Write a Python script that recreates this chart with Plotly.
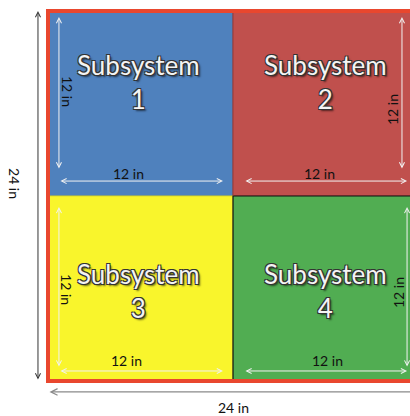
import plotly.graph_objects as go

# ---- data (inches) ----
total_size = 24
sub_size = 12
subsystem_ids = ["1", "2", "3", "4"]
sub_col = [0, 1, 0, 1]          # column index of each subsystem
sub_row = [1, 1, 0, 0]          # row index (0 = bottom)
dim_label_total = "24 in"
dim_label_sub = "12 in"

fills = ["#4F81BD", "#C0504D", "#F9F52C", "#51AD52"]
edges = ["#3D6AA0", "#9E3F3C", "#E0DC28", "#111111"]

# pixel scale: 370 px == 24 in, square origin at px (48, 381)
PX = 370 / total_size
W, H = 410, 416
x_rng = [-48 / PX, (W - 48) / PX]
y_rng = [-(H - 381) / PX, total_size + 11 / PX]

FONT = "Lato, 'Open Sans', sans-serif"

fig = go.Figure()
shapes = []
annotations = []

# quadrants
for i, sid in enumerate(subsystem_ids):
    qx = sub_col[i] * sub_size
    qy = sub_row[i] * sub_size
    shapes.append(dict(type="rect", xref="x", yref="y",
                       x0=qx, x1=qx + sub_size, y0=qy, y1=qy + sub_size,
                       fillcolor=fills[i], line=dict(color=edges[i], width=1.2),
                       layer="below"))

# outer border
shapes.append(dict(type="rect", xref="x", yref="y",
                   x0=0, x1=total_size, y0=0, y1=total_size,
                   fillcolor="rgba(0,0,0,0)", line=dict(color="#E9472E", width=4),
                   layer="above"))


def arrow(x0, y0, x1, y1, color, width=1):
    annotations.append(dict(x=x1, y=y1, ax=x0, ay=y0, xref="x", yref="y",
                            axref="x", ayref="y", text="", showarrow=True,
                            arrowside="end+start", arrowhead=5, startarrowhead=5,
                            arrowsize=1, startarrowsize=1, arrowwidth=width,
                            arrowcolor=color, standoff=0, startstandoff=0))


def label(x, y, text, angle=0, size=14, color="#111111"):
    annotations.append(dict(x=x, y=y, xref="x", yref="y", text=text,
                            showarrow=False, textangle=angle,
                            font=dict(family=FONT, size=size, color=color)))


# outer dimension arrows
arrow(-0.65, 0, -0.65, total_size, "#333333")
arrow(0, -0.71, total_size + 2, -0.71, "#8A8A8A", 1.3)
label(-2.14, 12.84, dim_label_total, 90)
label(12.0, -1.72, dim_label_total, 0)

# per-quadrant inner dimensions (offsets relative to quadrant lower-left)
inner_white = "#F2F2F2"
for i, sid in enumerate(subsystem_ids):
    qx = sub_col[i] * sub_size
    qy = sub_row[i] * sub_size
    right = sub_col[i] == 1
    top = sub_row[i] == 1
    vy0, vy1 = (1.69, 11.61) if top else (0.84, 11.29)
    hy = 0.97 if top else 0.65
    vx = (10.96 if top else 11.29) if right else 0.71
    hx0, hx1 = (0.71, 11.29) if right else (0.71, 11.35)
    arrow(qx + vx, qy + vy0, qx + vx, qy + vy1, inner_white)
    arrow(qx + hx0, qy + hy, qx + hx1, qy + hy, inner_white)
    # vertical label
    if right:
        lx = 10.38 if top else 10.70
        ly = 5.58 if top else 5.77
        label(qx + lx, qy + ly, dim_label_sub, -90)
    else:
        ly = 6.75 if top else 5.90
        label(qx + 1.23, qy + ly, dim_label_sub, 90)
    # horizontal label
    hlx = (5.64 if top else 6.10) if right else (5.19 if top else 5.12)
    hly = 1.45 if top else 1.30
    label(qx + hlx, qy + hly, dim_label_sub, 0)
    # subsystem title
    tx = 5.90 if not right else 5.97
    ty = 7.39 if top else 5.84
    annotations.append(dict(x=qx + tx, y=qy + ty, xref="x", yref="y",
                            text="Subsystem<br>" + sid, showarrow=False,
                            font=dict(family=FONT, size=26, color="#F4F4F4",
                                      shadow="-1px -1px 0 #333, 1px -1px 0 #333, "
                                             "-1px 1px 0 #333, 1px 1px 0 #333, "
                                             "2px 2px 2px rgba(0,0,0,0.6)"),
                            align="center"))

fig.update_layout(
    width=W, height=H,
    margin=dict(l=0, r=0, t=0, b=0),
    paper_bgcolor="white", plot_bgcolor="white",
    xaxis=dict(range=x_rng, visible=False, fixedrange=True),
    yaxis=dict(range=y_rng, visible=False, fixedrange=True),
    shapes=shapes, annotations=annotations,
    showlegend=False,
)

fig.write_html("out.html", config={"displayModeBar": False},
               post_script="document.body.style.margin='0';"
                           "document.body.style.overflow='hidden';")
